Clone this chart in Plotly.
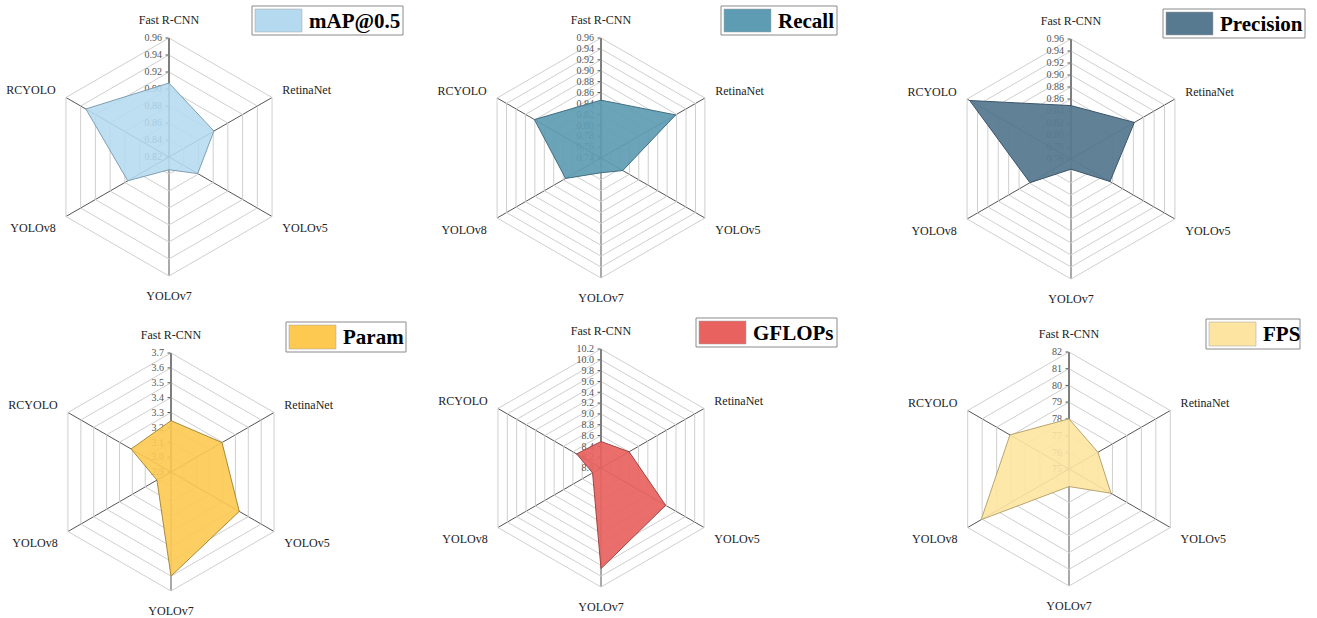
import plotly.graph_objects as go

W, H = 1317, 618

models = ["Fast R-CNN", "RetinaNet", "YOLOv5", "YOLOv7", "YOLOv8", "RCYOLO"]

map50 = [0.907, 0.881, 0.859, 0.835, 0.876, 0.933]
recall = [0.846, 0.898, 0.786, 0.767, 0.815, 0.881]
precision = [0.849, 0.882, 0.835, 0.777, 0.839, 0.955]
param = [3.245, 3.296, 3.43, 3.60, 3.009, 3.21]
gflops = [8.49, 8.60, 9.38, 9.86, 8.18, 8.52]
fps = [78.0, 77.0, 77.9, 76.05, 81.07, 79.08]

metric_names = ["mAP@0.5", "Recall", "Precision", "Param", "GFLOPs", "FPS"]
metric_values = [map50, recall, precision, param, gflops, fps]

# radial axis: (min, max, step, format)
radial_scales = [
    (0.82, 0.96, 0.02, ".2f"),
    (0.74, 0.96, 0.02, ".2f"),
    (0.76, 0.96, 0.02, ".2f"),
    (2.9, 3.7, 0.1, ".1f"),
    (8.0, 10.2, 0.2, ".1f"),
    (75, 82, 1, "d"),
]

fill_colors = ["#b5d9ef", "#5e9cb3", "#587a90", "#fdc950", "#e8625f", "#fde4a0"]
line_colors = ["#7f9fb3", "#3f6f80", "#3c566a", "#a88a3a", "#9e4543", "#b8a46e"]
fill_alpha = [0.88, 0.92, 0.95, 0.9, 0.92, 0.9]

# panel centres and radii in pixels
centres = [(169, 157, 119), (601, 158, 120), (1071, 159, 120),
           (171, 472, 119), (601, 468, 119), (1069, 469, 117)]

# legend boxes: (box_left, box_top, box_right, box_bottom)
legend_boxes = [(252, 6, 403, 35), (721, 6, 837, 35), (1163, 9, 1305, 38),
                (286, 322, 406, 352), (696, 318, 837, 347), (1206, 319, 1300, 349)]


def hex_to_rgba(h, a):
    h = h.lstrip("#")
    r, g, b = int(h[0:2], 16), int(h[2:4], 16), int(h[4:6], 16)
    return f"rgba({r},{g},{b},{a})"


fig = go.Figure()
layout_polars = {}
shapes = []
annotations = []

for i, (name, vals) in enumerate(zip(metric_names, metric_values)):
    key = "polar" if i == 0 else f"polar{i + 1}"
    cx, cy, R = centres[i]
    lo, hi, step, fmt = radial_scales[i]

    fig.add_trace(go.Scatterpolar(
        r=vals + [vals[0]],
        theta=models + [models[0]],
        fill="toself",
        fillcolor=hex_to_rgba(fill_colors[i], fill_alpha[i]),
        line=dict(color=line_colors[i], width=1),
        mode="lines",
        name=name,
        showlegend=False,
        subplot=key,
    ))

    nticks = int(round((hi - lo) / step))
    tickvals = [lo + k * step for k in range(nticks + 1)]
    if fmt == "d":
        ticktext = [str(int(round(v))) for v in tickvals]
    else:
        ticktext = [format(v, fmt) for v in tickvals]

    layout_polars[key] = dict(
        domain=dict(x=[(cx - R) / W, (cx + R) / W],
                    y=[1 - (cy + R) / H, 1 - (cy - R) / H]),
        gridshape="linear",
        bgcolor="white",
        radialaxis=dict(
            range=[lo, hi],
            tickvals=tickvals,
            ticktext=ticktext,
            angle=90,
            side="counterclockwise",
            tickangle=90,
            showline=True,
            linecolor="#555555",
            linewidth=1,
            gridcolor="#cfcfcf",
            gridwidth=1,
            ticks="outside",
            ticklen=3,
            tickcolor="#555555",
            tickfont=dict(family="Liberation Serif", size=10, color="#555555"),
            layer="below traces",
        ),
        angularaxis=dict(
            categoryarray=models,
            categoryorder="array",
            rotation=90,
            direction="clockwise",
            showline=True,
            linecolor="#cfcfcf",
            linewidth=1,
            gridcolor="#555555",
            gridwidth=1,
            ticks="outside",
            ticklen=9,
            tickcolor="rgba(0,0,0,0)",
            tickfont=dict(family="Liberation Serif", size=12, color="#222222"),
            layer="below traces",
        ),
    )

    # legend box with colour swatch and label
    bl, bt, br, bb = legend_boxes[i]
    shapes.append(dict(type="rect", xref="paper", yref="paper",
                       x0=bl / W, x1=br / W, y0=1 - bb / H, y1=1 - bt / H,
                       line=dict(color="#8a8a8a", width=1), fillcolor="white"))
    shapes.append(dict(type="rect", xref="paper", yref="paper",
                       x0=(bl + 3) / W, x1=(bl + 50) / W,
                       y0=1 - (bb - 3) / H, y1=1 - (bt + 3) / H,
                       line=dict(color="#a0a0a0", width=0.5),
                       fillcolor=fill_colors[i]))
    annotations.append(dict(text=f"<b>{name}</b>", xref="paper", yref="paper",
                            x=(bl + 55) / W, y=1 - (bt + bb) / 2 / H,
                            xanchor="left", yanchor="middle", showarrow=False,
                            font=dict(family="Liberation Serif", size=21,
                                      color="black")))

fig.update_layout(
    width=W, height=H,
    margin=dict(l=0, r=0, t=0, b=0),
    paper_bgcolor="white",
    plot_bgcolor="white",
    shapes=shapes,
    annotations=annotations,
    showlegend=False,
    **layout_polars,
)

fig.write_html("out.html")
